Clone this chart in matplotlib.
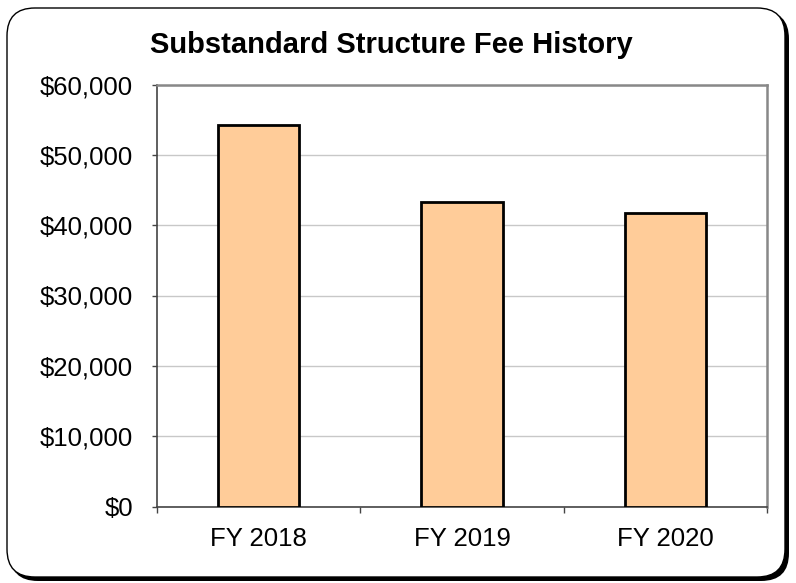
import matplotlib
matplotlib.use("Agg")
import matplotlib.pyplot as plt
from matplotlib.patches import FancyBboxPatch
from matplotlib.ticker import FuncFormatter, FixedLocator, NullFormatter

# data
years = ["FY 2018", "FY 2019", "FY 2020"]
fees = [54300, 43250, 41700]
y_ticks = [0, 10000, 20000, 30000, 40000, 50000, 60000]

plt.rcParams['font.family'] = ['Liberation Sans', 'DejaVu Sans']

fig = plt.figure(figsize=(7.96, 5.83), dpi=100)

# rounded frame with a drop shadow
W, H = 796, 583
def px_box(x0, y0, x1, y1, **kw):
    return FancyBboxPatch((x0 / W, 1 - y1 / H), (x1 - x0) / W, (y1 - y0) / H,
                          boxstyle="round,pad=0,rounding_size=0.035",
                          transform=fig.transFigure, mutation_aspect=W / H, **kw)

fig.patches.append(px_box(10, 11, 789, 581, facecolor="black", edgecolor="black", lw=0, zorder=-2))
fig.patches.append(px_box(7, 8, 785, 577, facecolor="white", edgecolor="black", lw=1.0, zorder=-1))

ax = fig.add_axes([157 / W, 1 - 506.5 / H, (767 - 157) / W, (506.5 - 84.5) / H])
ax.set_facecolor("white")

x = range(len(years))
ax.bar(x, fees, width=0.4, color="#FFCC99", edgecolor="black", linewidth=2.0, zorder=3)

ax.set_ylim(0, 60000)
ax.set_xlim(-0.5, len(years) - 0.5)
ax.set_yticks(y_ticks)
ax.yaxis.set_major_formatter(FuncFormatter(lambda v, p: "${:,.0f}".format(v)))
ax.grid(axis="y", color="#c8c8c8", linewidth=1.0, zorder=0)

# category labels centred, ticks on the boundaries
ax.xaxis.set_major_locator(FixedLocator([-0.5, 0.5, 1.5, 2.5]))
ax.xaxis.set_major_formatter(NullFormatter())
ax.xaxis.set_minor_locator(FixedLocator(list(x)))
ax.set_xticklabels(years, minor=True)
ax.tick_params(axis="x", which="minor", length=0, pad=15, labelsize=18.5)
ax.tick_params(axis="x", which="major", length=4, width=1, color="#444444", direction="out")
ax.tick_params(axis="y", length=3.6, width=1, color="#444444", direction="out", pad=13.5, labelsize=18.5)

for side in ["top", "right"]:
    ax.spines[side].set_color("#888888")
    ax.spines[side].set_linewidth(1.8)
ax.spines["left"].set_color("#444444")
ax.spines["bottom"].set_color("#444444")
ax.spines["left"].set_linewidth(1.2)
ax.spines["bottom"].set_linewidth(1.2)

fig.text(391 / W, 1 - 45 / H, "Substandard Structure Fee History", ha="center", va="center",
         fontsize=21, fontweight="bold")

fig.savefig("out.png", dpi=100)
